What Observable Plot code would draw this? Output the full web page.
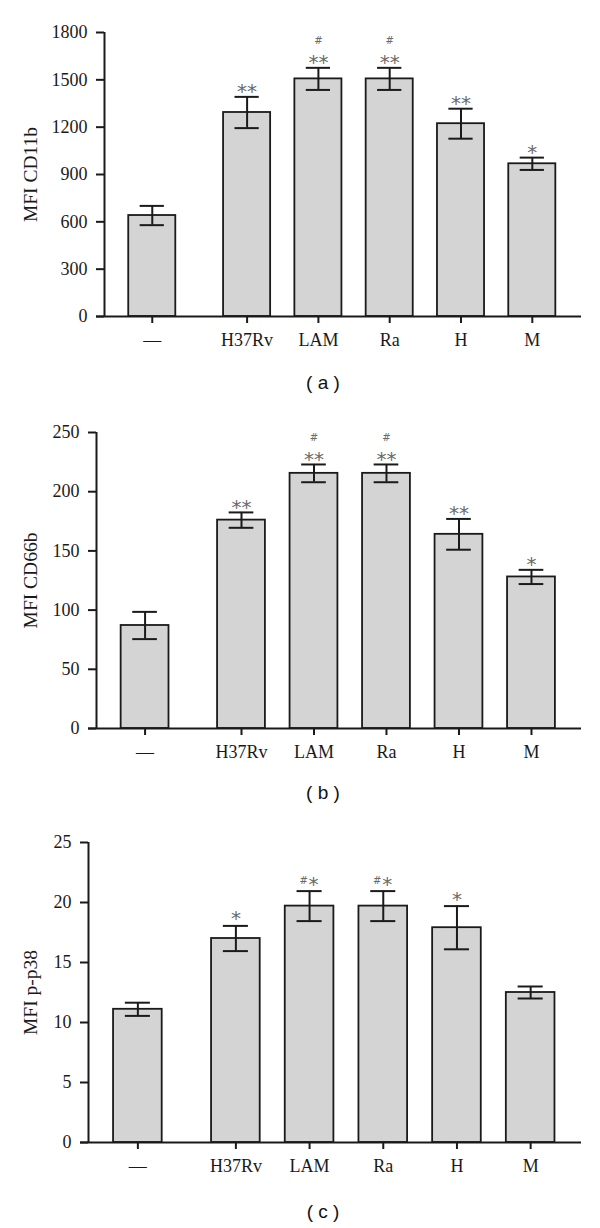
<!DOCTYPE html>
<html>
<head>
<meta charset="utf-8">
<script src="https://cdn.jsdelivr.net/npm/d3@7"></script>
<script src="https://cdn.jsdelivr.net/npm/@observablehq/plot@0.6"></script>
<style>
  html, body { margin: 0; padding: 0; background: #fff; }
  .panel { position: relative; width: 600px; }
  .panel svg { position: absolute; left: 0; top: 0; z-index: 1; }
  .cap { position: absolute; z-index: 5; font-family: "Liberation Sans", Arial, sans-serif; font-size: 19px; color: #111; transform: translate(-50%, -50%); white-space: pre; }
</style>
</head>
<body>
<div id="root"></div>
<script>
// ---- data ----
const categories = ["—", "H37Rv", "LAM", "Ra", "H", "M"];

const cd11bMean = [640, 1293, 1506, 1506, 1222, 968];
const cd11bErr  = [61, 99, 70, 70, 95, 39];
const cd11bStars = ["", "**", "**", "**", "**", "*"];
const cd11bHash  = ["", "", "#", "#", "", ""];
const cd11bTicks = [0, 300, 600, 900, 1200, 1500, 1800];

const cd66bMean = [87, 176, 215.5, 215.5, 164, 128];
const cd66bErr  = [11.5, 6.5, 7.5, 7.5, 13, 6];
const cd66bStars = ["", "**", "**", "**", "**", "*"];
const cd66bHash  = ["", "", "#", "#", "", ""];
const cd66bTicks = [0, 50, 100, 150, 200, 250];

const p38Mean = [11.1, 17.0, 19.7, 19.7, 17.9, 12.5];
const p38Err  = [0.55, 1.05, 1.25, 1.25, 1.8, 0.5];
const p38Stars = ["", "*", "*", "*", "*", ""];
const p38Hash  = ["", "", "#", "#", "", ""];
const p38Ticks = [0, 5, 10, 15, 20, 25];

// ---- layout ----
const GAP = 0.33;      // extra space after the control bar
const HALF = 0.33;     // half bar width (in category steps)
const CAP = 0.17;      // half error-cap width
const posOf = i => i + (i > 0 ? GAP : 0);
const XDOM = [-0.67, 6.02];
const INK = "#1a1a1a";
const STAR = "#6a6a6a";
const FS = 18;

function panel({mean, err, stars, hash, ticks, label, caption, marginLeft, marginTop, height, divHeight, capY, inlineHash}) {
  const data = categories.map((c, i) => ({cat: c, pos: posOf(i), mean: mean[i], err: err[i], stars: stars[i], hash: hash[i]}));
  const ymax = ticks[ticks.length - 1];
  const labelByPos = new Map(data.map(d => [d.pos, d.cat]));
  const hashed = data.filter(d => d.hash);
  const marks = [
    Plot.rectY(data, {x1: d => d.pos - HALF, x2: d => d.pos + HALF, y1: 0, y2: "mean", fill: "#d4d4d4", stroke: INK, strokeWidth: 1.8}),
    Plot.ruleX(data, {x: "pos", y1: d => d.mean - d.err, y2: d => d.mean + d.err, stroke: INK, strokeWidth: 2}),
    Plot.ruleY(data, {y: d => d.mean + d.err, x1: d => d.pos - CAP, x2: d => d.pos + CAP, stroke: INK, strokeWidth: 2}),
    Plot.ruleY(data, {y: d => d.mean - d.err, x1: d => d.pos - CAP, x2: d => d.pos + CAP, stroke: INK, strokeWidth: 2}),
    Plot.ruleY([0], {insetLeft: -8, stroke: INK, strokeWidth: 2}),
    Plot.ruleX([XDOM[0]], {y1: 0, y2: ymax, stroke: INK, strokeWidth: 2}),
    Plot.axisY(ticks, {tickSize: 8, tickPadding: 9, strokeWidth: 2, stroke: INK, fill: INK, fontSize: FS,
      tickFormat: d => String(d), label: null}),
    Plot.axisY({ticks: [], tickSize: 0, fontSize: 19.5, fill: INK,
      label, labelArrow: "none", labelAnchor: "center", labelOffset: marginLeft - 23}),
    Plot.axisX(data.map(d => d.pos), {tickSize: 7, tickPadding: 10, strokeWidth: 2, stroke: INK, fill: INK, fontSize: FS,
      tickFormat: p => labelByPos.get(p), label: null})
  ];
  if (inlineHash) {
    const plain = data.filter(d => d.stars && !d.hash);
    const mixed = data.filter(d => d.stars && d.hash);
    marks.push(Plot.text(plain, {x: "pos", y: d => d.mean + d.err, text: "stars", dy: -7,
      fontFamily: "DejaVu Sans", fontSize: 20, fill: STAR}));
    marks.push(Plot.text(mixed, {x: "pos", y: d => d.mean + d.err, text: "stars", dx: 4, dy: -7,
      fontFamily: "DejaVu Sans", fontSize: 20, fill: STAR}));
    marks.push(Plot.text(mixed, {x: "pos", y: d => d.mean + d.err, text: "hash", dx: -6, dy: -10,
      fontFamily: "DejaVu Sans", fontSize: 10, fill: STAR}));
  } else {
    const starred = data.filter(d => d.stars);
    marks.push(Plot.text(starred, {x: "pos", y: d => d.mean + d.err, text: "stars", dy: -5,
      fontFamily: "DejaVu Sans", fontSize: 20, fill: STAR, letterSpacing: 1}));
    marks.push(Plot.text(hashed, {x: "pos", y: d => d.mean + d.err, text: "hash", dy: -27,
      fontFamily: "DejaVu Sans", fontSize: 10, fill: STAR}));
  }
  const svg = Plot.plot({
    width: 600, height,
    marginLeft, marginRight: 19, marginTop, marginBottom: 60,
    style: {fontFamily: "Liberation Serif, Times New Roman, serif", fontSize: FS + "px", color: INK, background: "transparent", overflow: "visible"},
    x: {domain: XDOM, axis: null},
    y: {domain: [0, ymax], axis: null},
    marks
  });
  const div = document.createElement("div");
  div.className = "panel";
  div.style.height = divHeight + "px";
  div.appendChild(svg);
  const cap = document.createElement("div");
  cap.className = "cap";
  cap.textContent = caption;
  cap.style.left = "323px";
  cap.style.top = capY + "px";
  div.appendChild(cap);
  document.getElementById("root").appendChild(div);
}

panel({mean: cd11bMean, err: cd11bErr, stars: cd11bStars, hash: cd11bHash, ticks: cd11bTicks,
  label: "MFI CD11b", caption: "( a )", marginLeft: 104, marginTop: 32, height: 376, divHeight: 400, capY: 383, inlineHash: false});
panel({mean: cd66bMean, err: cd66bErr, stars: cd66bStars, hash: cd66bHash, ticks: cd66bTicks,
  label: "MFI CD66b", caption: "( b )", marginLeft: 96, marginTop: 32, height: 388, divHeight: 400, capY: 393, inlineHash: false});
panel({mean: p38Mean, err: p38Err, stars: p38Stars, hash: p38Hash, ticks: p38Ticks,
  label: "MFI p-p38", caption: "( c )", marginLeft: 88, marginTop: 42, height: 402, divHeight: 428, capY: 412, inlineHash: true});
</script>
</body>
</html>
